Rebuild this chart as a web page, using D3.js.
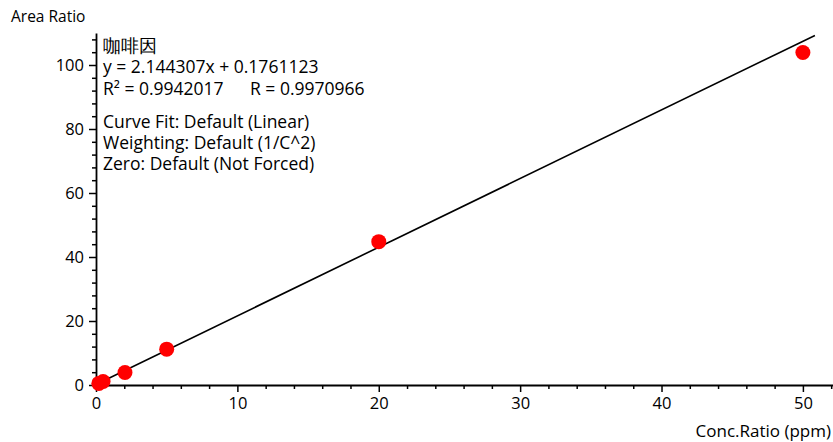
<!DOCTYPE html>
<html>
<head>
<meta charset="utf-8">
<script src="https://cdn.jsdelivr.net/npm/d3@7"></script>
<style>
  body { margin: 0; background: #fff; }
  text { font-family: "Open Sans", "Noto Sans", sans-serif; fill: #000; }
</style>
</head>
<body>
<svg width="833" height="442"></svg>
<script>
const concRatio = [0.2, 0.5, 2.05, 5, 20, 50];
const areaRatio = [0.5, 1.1, 3.9, 11.2, 44.8, 103.9];
const slope = 2.144307;
const intercept = 0.1761123;
const fitEnd = 50.85;
const xTicks = [0, 10, 20, 30, 40, 50];
const yTicks = [0, 20, 40, 60, 80, 100];
const infoLines = [
  "咖啡因",
  "y = 2.144307x + 0.1761123",
  "R² = 0.9942017",
  "Curve Fit: Default (Linear)",
  "Weighting: Default (1/C^2)",
  "Zero: Default (Not Forced)"
];

const svg = d3.select("svg");

const x = d3.scaleLinear().domain([0, 52.2]).range([96, 834]);
const y = d3.scaleLinear().domain([0, 110]).range([385, 33]);

// minor ticks
const xMinor = d3.range(0, 53, 2).filter((v) => v % 10 !== 0);
const yMinor = d3.range(0, 111, 4).filter((v) => v % 20 !== 0);

svg
  .append("g")
  .attr("transform", "translate(0,385)")
  .call(d3.axisBottom(x).tickValues(xMinor).tickSize(4).tickFormat(""))
  .call((g) => g.select(".domain").remove())
  .selectAll("line")
  .attr("stroke-width", 1.5);

svg
  .append("g")
  .attr("transform", "translate(96,0)")
  .call(d3.axisLeft(y).tickValues(yMinor).tickSize(4).tickFormat(""))
  .call((g) => g.select(".domain").remove())
  .selectAll("line")
  .attr("stroke-width", 1.5);

// major axes
const xAxis = svg
  .append("g")
  .attr("transform", "translate(0,385)")
  .call(d3.axisBottom(x).tickValues(xTicks).tickSize(7).tickSizeOuter(0).tickPadding(5));
xAxis.select(".domain").attr("stroke-width", 1.8);
xAxis.selectAll("line").attr("stroke-width", 1.5);
xAxis.selectAll("text").style("font-size", "16.5px");

const yAxis = svg
  .append("g")
  .attr("transform", "translate(96,0)")
  .call(d3.axisLeft(y).tickValues(yTicks).tickSize(7).tickSizeOuter(0).tickPadding(5));
yAxis.select(".domain").attr("stroke-width", 1.8);
yAxis.selectAll("line").attr("stroke-width", 1.5);
yAxis.selectAll("text").style("font-size", "16.5px");

// axis titles
svg
  .append("text")
  .attr("x", 11)
  .attr("y", 22)
  .style("font-size", "15.5px")
  .text("Area Ratio");

svg
  .append("text")
  .attr("x", 831)
  .attr("y", 437)
  .attr("text-anchor", "end")
  .style("font-size", "17px")
  .text("Conc.Ratio (ppm)");

// fit line
svg
  .append("line")
  .attr("x1", x(0))
  .attr("y1", y(intercept))
  .attr("x2", x(fitEnd))
  .attr("y2", y(slope * fitEnd + intercept))
  .attr("stroke", "#000")
  .attr("stroke-width", 1.6);

// points
svg
  .selectAll("circle")
  .data(concRatio)
  .enter()
  .append("circle")
  .attr("cx", (d) => x(d))
  .attr("cy", (d, i) => y(areaRatio[i]))
  .attr("r", 7.5)
  .attr("fill", "#f00");

// info text
const baselines = [52, 73, 95, 128, 149, 170];
svg
  .selectAll("text.info")
  .data(infoLines)
  .enter()
  .append("text")
  .attr("class", "info")
  .attr("x", 103)
  .attr("y", (d, i) => baselines[i])
  .style("font-size", "17.5px")
  .text((d) => d);

svg
  .append("text")
  .attr("x", 250)
  .attr("y", 95)
  .style("font-size", "17.5px")
  .text("R = 0.9970966");
</script>
</body>
</html>
